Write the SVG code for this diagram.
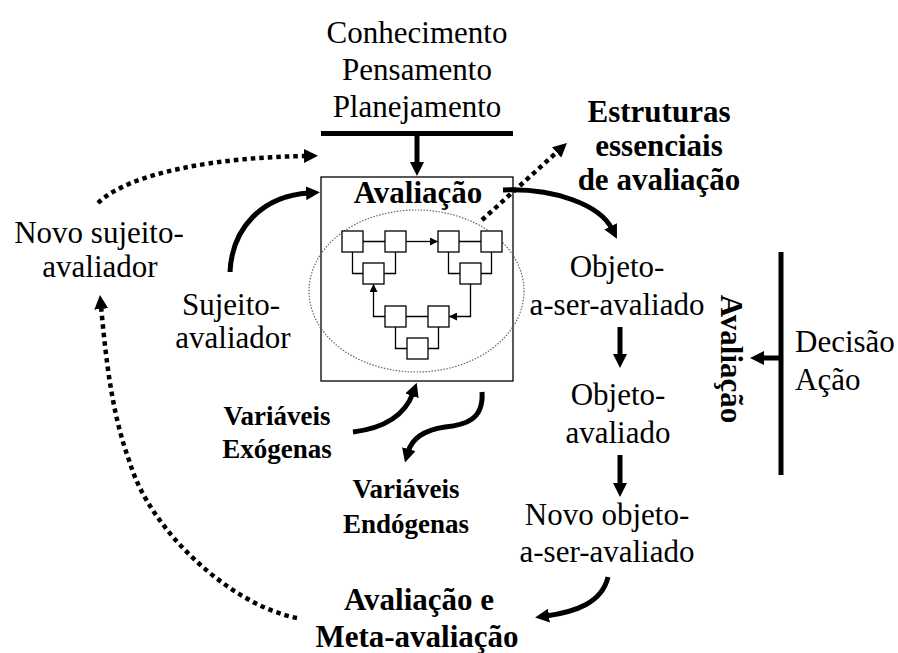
<svg xmlns="http://www.w3.org/2000/svg" width="898" height="653" viewBox="0 0 898 653">
<style>
text{font-family:"Liberation Serif","Times New Roman",serif;fill:#000}
.r{font-size:31px}
.b{font-size:31px;font-weight:bold}
.bs{font-size:27px;font-weight:bold}
.m{text-anchor:middle}
.thick{fill:none;stroke:#000;stroke-width:5}
.dot{fill:none;stroke:#000;stroke-width:4.5;stroke-dasharray:4.5 4}
.sq{fill:#fff;stroke:#000;stroke-width:1.3}
.thin{fill:none;stroke:#000;stroke-width:1.3}
</style>
<defs>
<marker id="ah" viewBox="0 0 14 14" refX="3" refY="7" markerWidth="14" markerHeight="14" markerUnits="userSpaceOnUse" orient="auto"><path d="M0,0 L14,7 L0,14 z" fill="#000"/></marker>
<marker id="as" viewBox="0 0 8 8" refX="8" refY="4" markerWidth="8" markerHeight="8" markerUnits="userSpaceOnUse" orient="auto"><path d="M0,0 L8,4 L0,8 z" fill="#000"/></marker>
</defs>
<rect width="898" height="653" fill="#fff"/>

<g id="topo">
<text class="r m" x="417" y="43">Conhecimento</text>
<text class="r m" x="417" y="80">Pensamento</text>
<text class="r m" x="417" y="117">Planejamento</text>
<rect x="321" y="131" width="192" height="5" fill="#000"/>
</g>

<g id="avaliacao">
<rect x="321" y="177" width="192" height="204" fill="none" stroke="#000" stroke-width="1.3"/>
<text class="b m" x="418" y="203">Avaliação</text>
<ellipse cx="416.5" cy="291" rx="107.5" ry="81" fill="none" stroke="#666" stroke-width="1.2" stroke-dasharray="1.5 1.5"/>
<g id="rede">
<path class="thin" d="M363,241.5 H385 M459,241.5 H481 M352.5,252 V273.5 H363 M395.5,252 V273.5 H384 M448.5,252 V273.5 H460 M491.5,252 V273.5 H481 M406,316.5 H428 M395.5,327 V348.5 H407 M438.5,327 V348.5 H428"/>
<path class="thin" d="M406,241.5 H438" marker-end="url(#as)"/>
<path class="thin" d="M470.5,284 V316.5 H449" marker-end="url(#as)"/>
<path class="thin" d="M385,316.5 H373.5 V284" marker-end="url(#as)"/>
<rect class="sq" x="342" y="231" width="21" height="21"/>
<rect class="sq" x="385" y="231" width="21" height="21"/>
<rect class="sq" x="438" y="231" width="21" height="21"/>
<rect class="sq" x="481" y="231" width="21" height="21"/>
<rect class="sq" x="363" y="263" width="21" height="21"/>
<rect class="sq" x="460" y="263" width="21" height="21"/>
<rect class="sq" x="385" y="306" width="21" height="21"/>
<rect class="sq" x="428" y="306" width="21" height="21"/>
<rect class="sq" x="407" y="338" width="21" height="21"/>
</g>
</g>

<g id="estruturas">
<text class="b m" x="659" y="122">Estruturas</text>
<text class="b m" x="659" y="156">essenciais</text>
<text class="b m" x="659" y="190">de avaliação</text>
</g>

<g id="novo-sujeito">
<text class="r m" x="99" y="243">Novo sujeito-</text>
<text class="r m" x="100" y="277">avaliador</text>
</g>

<g id="sujeito">
<text class="r m" x="231" y="315">Sujeito-</text>
<text class="r m" x="233" y="348">avaliador</text>
</g>

<g id="exogenas">
<text class="bs m" x="277" y="425">Variáveis</text>
<text class="bs m" x="277" y="458">Exógenas</text>
</g>

<g id="endogenas">
<text class="bs m" x="406" y="498">Variáveis</text>
<text class="bs m" x="406" y="533">Endógenas</text>
</g>

<g id="objeto1">
<text class="r m" x="617" y="277">Objeto-</text>
<text class="r m" x="617" y="315">a-ser-avaliado</text>
</g>

<g id="objeto2">
<text class="r m" x="618" y="405">Objeto-</text>
<text class="r m" x="618" y="443">avaliado</text>
</g>

<g id="objeto3">
<text class="r m" x="607" y="525">Novo objeto-</text>
<text class="r m" x="607" y="562">a-ser-avaliado</text>
</g>

<g id="meta">
<text class="b m" x="419" y="610">Avaliação e</text>
<text class="b m" x="417" y="647">Meta-avaliação</text>
</g>

<g id="decisao">
<rect x="778.5" y="252" width="5" height="223" fill="#000"/>
<text class="r" x="795" y="352">Decisão</text>
<text class="r" x="795" y="390">Ação</text>
<text class="b m" transform="translate(721,359) rotate(90)" x="0" y="0">Avaliação</text>
</g>

<g id="conectores">
<path class="thick" d="M417,136 V165" marker-end="url(#ah)"/>
<path class="thick" d="M230,272 C232,228 262,196 309,193" marker-end="url(#ah)"/>
<path class="dot" d="M98,203 C130,172 220,157 307,156" marker-end="url(#ah)"/>
<path class="dot" d="M297,618 C230,605 150,530 130,463 C112,415 106,360 101,306" marker-end="url(#ah)"/>
<path class="dot" d="M482,220 L558.8,150.4" marker-end="url(#ah)"/>
<path class="thick" d="M503,190 C555,188 600,205 612,229" marker-end="url(#ah)"/>
<path class="thick" d="M353,432 C385,428 405,415 413,393" marker-end="url(#ah)"/>
<path class="thick" d="M482,392 C484,420 465,425 445,427 C425,430 412,438 408,452" marker-end="url(#ah)"/>
<path class="thick" d="M620,327 V357" marker-end="url(#ah)"/>
<path class="thick" d="M620,455 V486" marker-end="url(#ah)"/>
<path class="thick" d="M608,577 C602,603 575,612 546,616" marker-end="url(#ah)"/>
<path class="thick" d="M781,358 H761" marker-end="url(#ah)"/>
</g>
</svg>
